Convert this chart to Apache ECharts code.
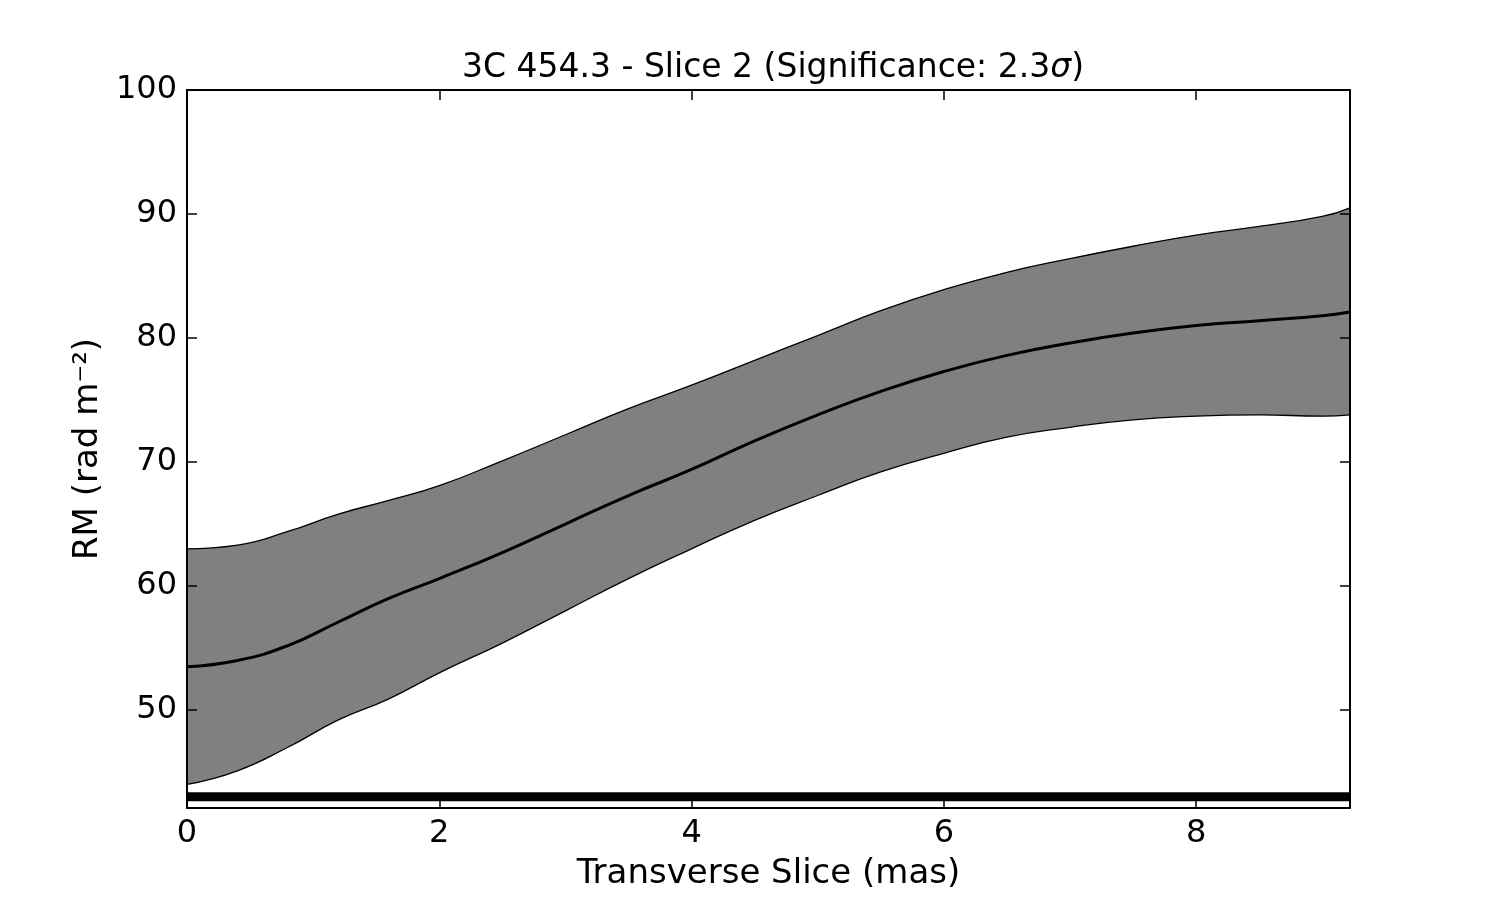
<!DOCTYPE html>
<html>
<head>
  <meta charset="utf-8">
  <script type="text/javascript" src="https://cdn.jsdelivr.net/npm/echarts@6/dist/echarts.min.js"></script>
  <style>
    html, body { margin: 0; padding: 0; background: #ffffff; }
  </style>
</head>
<body>
  <div id="main" style="width: 1500px; height: 900px;"></div>
  <script>
    // transverse position (mas)
    var slicePos = [0, 0.4, 0.8, 1.2, 1.6, 2.0, 2.5, 3.0, 3.5, 4.0, 4.5, 5.0, 5.5, 6.0, 6.5, 7.0, 7.5, 8.0, 8.5, 9.0, 9.22];
    // RM mean and the error band edges
    var rmMean  = [53.5, 54.0, 55.2, 57.1, 59.0, 60.6, 62.7, 65.0, 67.3, 69.4, 71.7, 73.8, 75.7, 77.3, 78.6, 79.6, 80.4, 81.0, 81.4, 81.8, 82.1];
    var rmUpper = [63.0, 63.3, 64.4, 65.8, 66.9, 68.1, 70.1, 72.2, 74.3, 76.2, 78.2, 80.2, 82.2, 83.9, 85.3, 86.4, 87.4, 88.3, 89.0, 89.8, 90.5];
    var rmLower = [44.0, 45.1, 47.0, 49.2, 50.9, 53.0, 55.4, 58.0, 60.6, 63.0, 65.3, 67.3, 69.2, 70.7, 72.0, 72.8, 73.4, 73.7, 73.8, 73.7, 73.8];
    // thick horizontal bar near the bottom
    var barLevel = 43;
    var xTicks = [0, 2, 4, 6, 8];
    var yTicks = [50, 60, 70, 80, 90, 100];
    var xMin = 0, xMax = 9.22, yMin = 42.1, yMax = 100;

    var font = 'DejaVu Sans';

    function pairs(xs, ys) {
      var out = [];
      for (var i = 0; i < xs.length; i++) out.push([xs[i], ys[i]]);
      return out;
    }

    // all four sides of the frame, ticks pointing in, drawn above the fill
    function frameAxis(pos, extra) {
      var vals = (pos === 'top' || pos === 'bottom') ? xTicks : yTicks;
      var base = {
        type: 'value',
        position: pos,
        z: 10,
        axisLine: { show: true, onZero: false, lineStyle: { color: '#000', width: 2 } },
        axisTick: { show: true, inside: true, length: 10, customValues: vals, lineStyle: { color: '#000', width: 1.5 } },
        splitLine: { show: false },
        axisLabel: { show: false }
      };
      for (var k in extra) base[k] = extra[k];
      return base;
    }

    var chart = echarts.init(document.getElementById('main'));
    var option = {
      animation: false,
      backgroundColor: '#ffffff',
      title: {
        text: '{a|3C 454.3 - Slice 2 (Significance: 2.3}{s|σ}{a|)}',
        left: 768, top: 47, textAlign: 'center',
        textStyle: {
          fontWeight: 'normal',
          rich: {
            a: { fontFamily: font, fontSize: 33, fontWeight: 'normal', color: '#000' },
            s: { fontFamily: font, fontSize: 33, fontWeight: 'normal', fontStyle: 'italic', color: '#000' }
          }
        }
      },
      grid: { left: 187, right: 150, top: 90, bottom: 92 },
      xAxis: [
        frameAxis('bottom', {
          min: xMin, max: xMax,
          name: 'Transverse Slice (mas)', nameLocation: 'middle', nameGap: 49,
          nameTextStyle: { fontFamily: font, fontSize: 34, color: '#000' },
          axisLabel: { show: true, customValues: xTicks, margin: 10, fontFamily: font, fontSize: 32, color: '#000' }
        }),
        frameAxis('top', { min: xMin, max: xMax })
      ],
      yAxis: [
        frameAxis('left', {
          min: yMin, max: yMax,
          name: 'RM (rad m⁻²)', nameLocation: 'middle', nameGap: 82, nameRotate: 90,
          nameTextStyle: { fontFamily: font, fontSize: 34, color: '#000' },
          axisLabel: { show: true, customValues: yTicks, margin: 10, fontFamily: font, fontSize: 32, color: '#000' }
        }),
        frameAxis('right', { min: yMin, max: yMax })
      ],
      series: [
        {
          name: 'upper', type: 'line', smooth: 0.5, symbol: 'none',
          data: pairs(slicePos, rmUpper),
          lineStyle: { color: '#000', width: 1.3 },
          areaStyle: { color: '#808080', opacity: 1, origin: 'start' },
          z: 2
        },
        {
          name: 'lower', type: 'line', smooth: 0.5, symbol: 'none',
          data: pairs(slicePos, rmLower),
          lineStyle: { color: '#000', width: 1.3 },
          areaStyle: { color: '#ffffff', opacity: 1, origin: 'start' },
          z: 3
        },
        {
          name: 'mean', type: 'line', smooth: 0.5, symbol: 'none',
          data: pairs(slicePos, rmMean),
          lineStyle: { color: '#000', width: 3 },
          z: 4
        },
        {
          name: 'bar', type: 'line', symbol: 'none',
          data: [[xMin, barLevel], [xMax, barLevel]],
          lineStyle: { color: '#000', width: 9, cap: 'butt' },
          z: 5
        }
      ]
    };
    chart.setOption(option);
  </script>
</body>
</html>
